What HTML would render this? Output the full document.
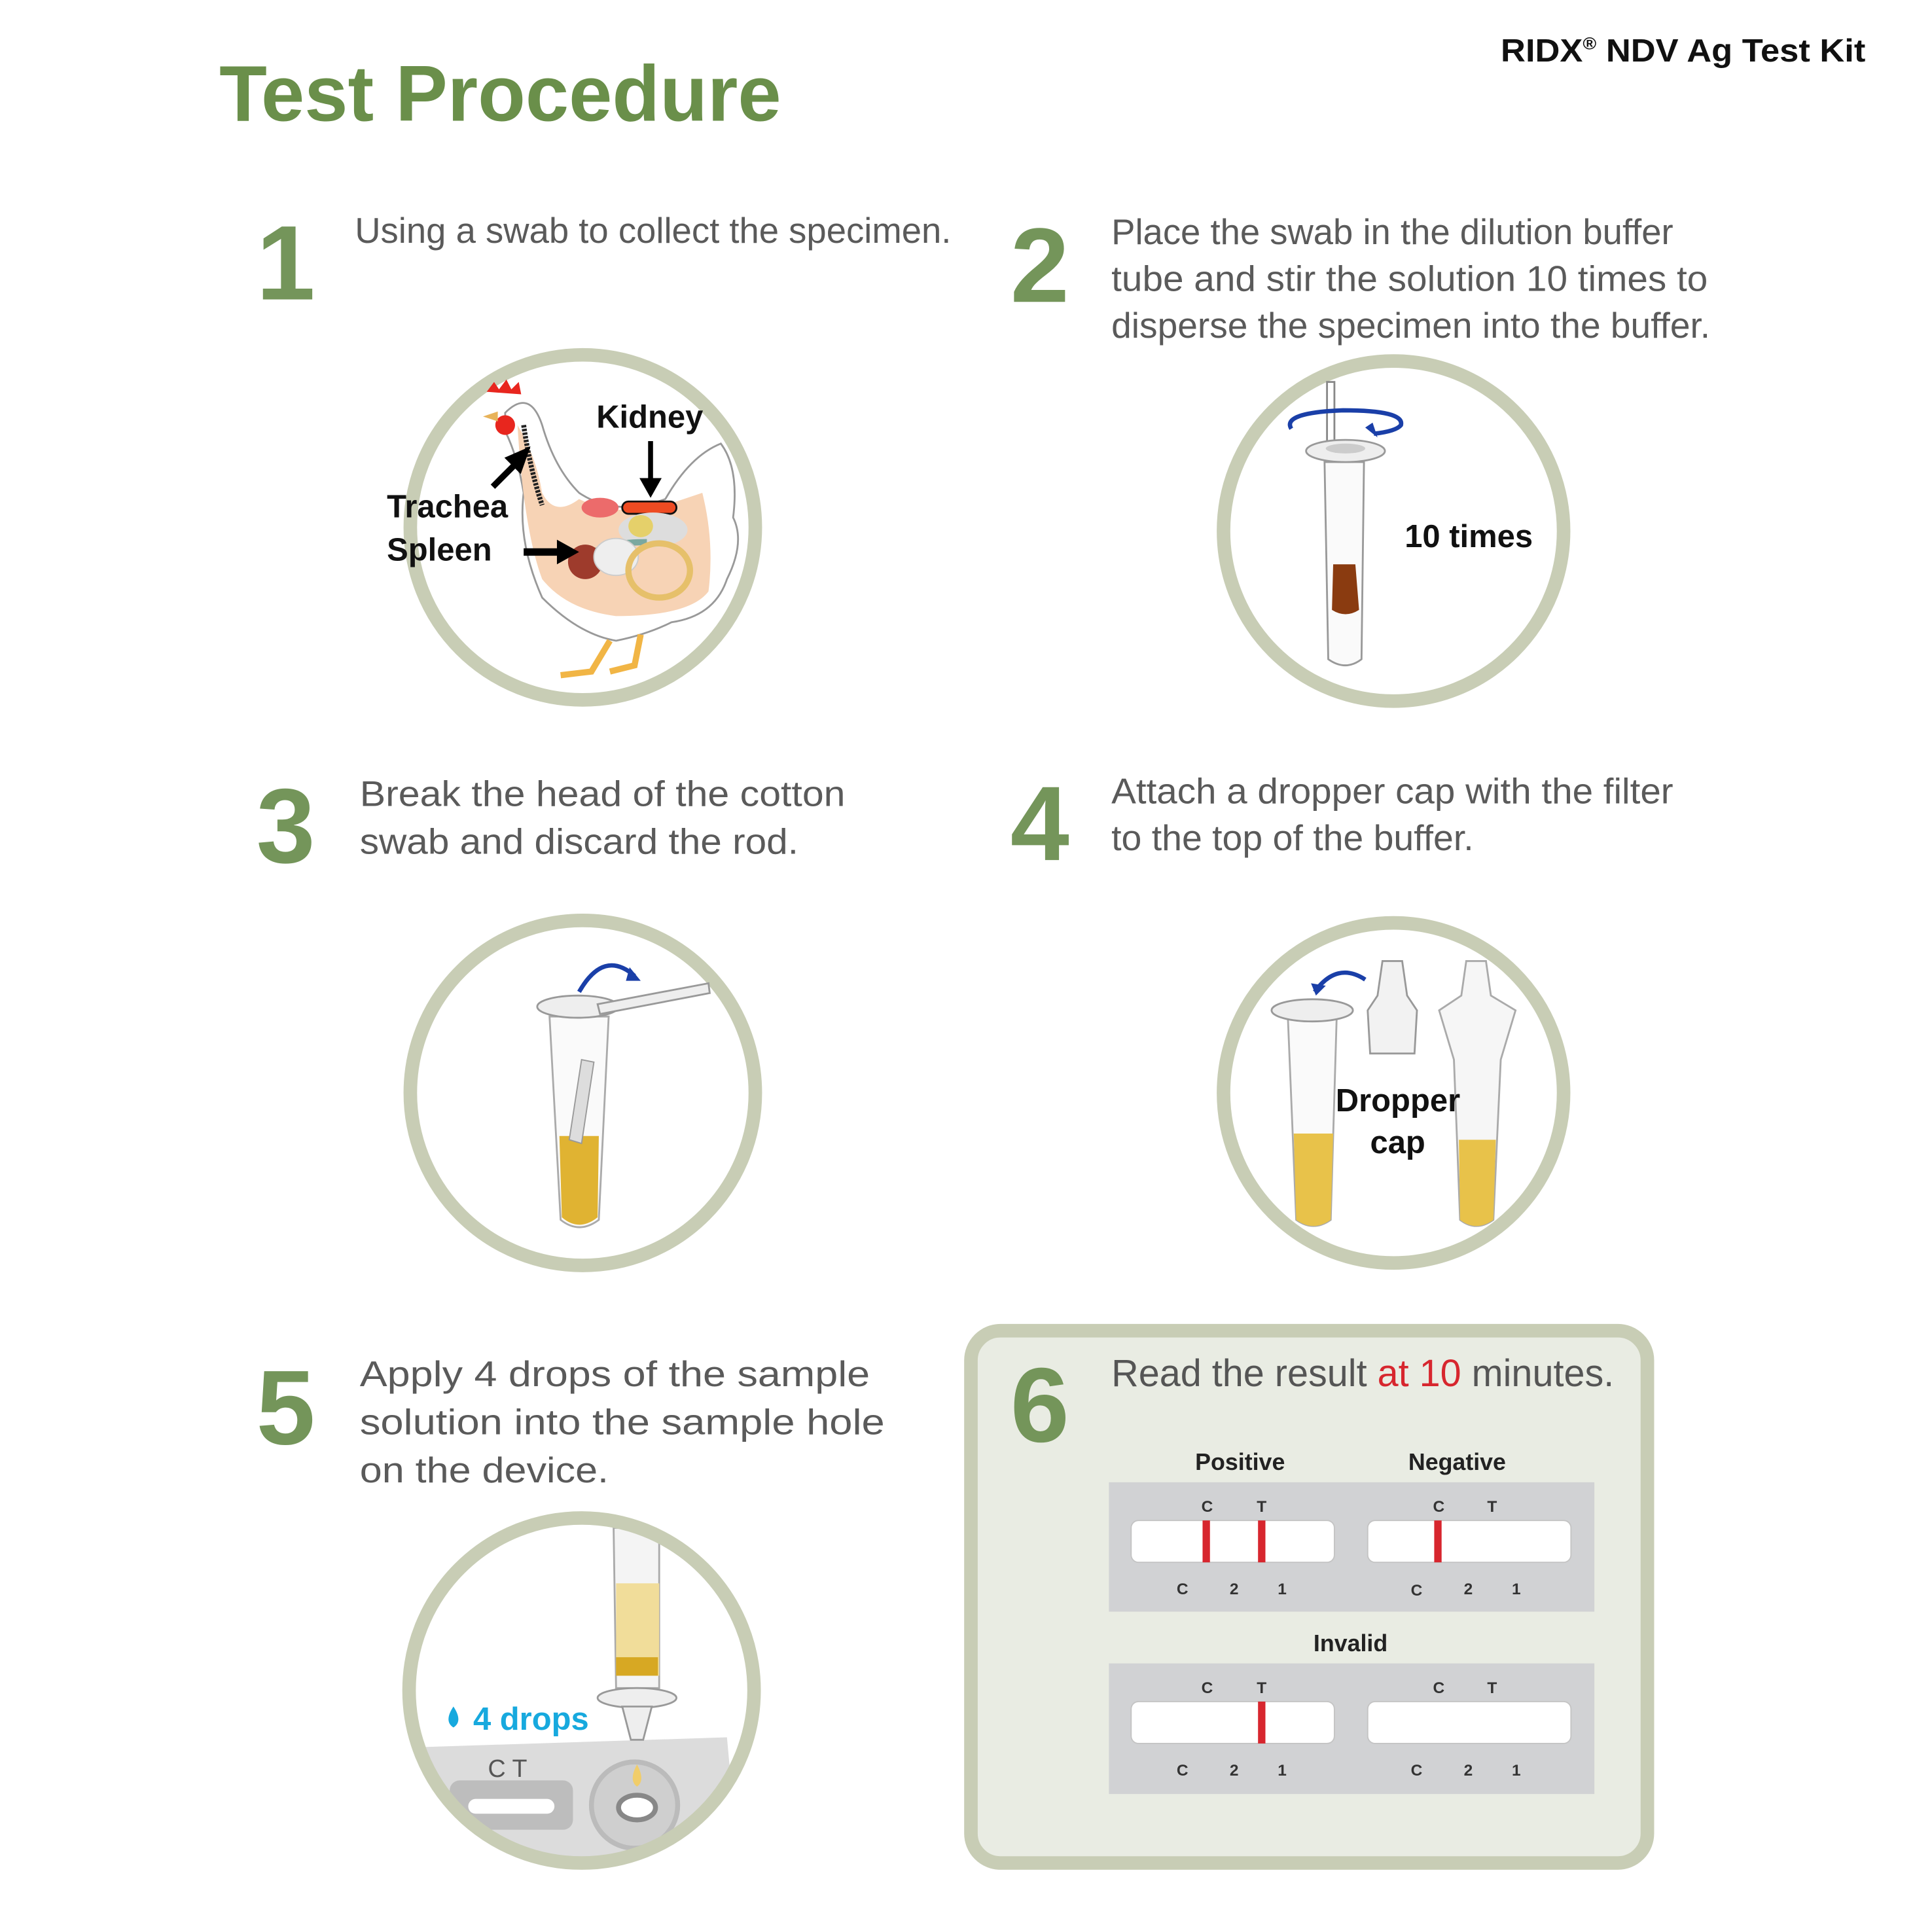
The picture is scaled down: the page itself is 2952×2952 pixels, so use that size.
<!DOCTYPE html>
<html><head><meta charset="utf-8"><style>
html,body{margin:0;padding:0;background:#fff;}
svg{display:block;}
text{font-family:"Liberation Sans Narrow","Liberation Sans",sans-serif;}
.num{fill:#74955a;font-weight:bold;font-size:86px;}
.st{fill:#5a5a5a;font-size:29px;}
.lbl{fill:#111;font-weight:bold;font-size:26px;}
</style></head><body>
<svg width="2952" height="2952" viewBox="0 0 1568 1568" xmlns="http://www.w3.org/2000/svg">
<rect width="1568" height="1568" fill="#fff"/>
<!-- step6 box (behind number) -->
<rect x="788" y="1080" width="549" height="432" rx="24" fill="#e9ece3" stroke="#c8cdb5" stroke-width="11"/>

<!-- header -->
<text x="178" y="98" font-size="64" font-weight="bold" fill="#6a8f4a" textLength="456" lengthAdjust="spacingAndGlyphs">Test Procedure</text>
<text x="1218" y="50" font-size="26" font-weight="bold" fill="#111" textLength="296" lengthAdjust="spacingAndGlyphs">RIDX<tspan font-size="14" dy="-10">®</tspan><tspan dy="10"> NDV Ag Test Kit</tspan></text>

<!-- step numbers -->
<text class="num" x="208" y="243">1</text>
<text class="num" x="820" y="245">2</text>
<text class="num" x="208" y="700">3</text>
<text class="num" x="820" y="698">4</text>
<text class="num" x="208" y="1172">5</text>
<text class="num" x="820" y="1170">6</text>

<!-- step texts -->
<text class="st" x="288" y="197" textLength="484" lengthAdjust="spacingAndGlyphs">Using a swab to collect the specimen.</text>
<text class="st" x="902" y="198" textLength="456" lengthAdjust="spacingAndGlyphs">Place the swab in the dilution buffer</text>
<text class="st" x="902" y="236" textLength="484" lengthAdjust="spacingAndGlyphs">tube  and stir the solution  10  times to</text>
<text class="st" x="902" y="274" textLength="486" lengthAdjust="spacingAndGlyphs">disperse the specimen into the buffer.</text>
<text class="st" x="292" y="654" textLength="394" lengthAdjust="spacingAndGlyphs">Break  the  head  of  the  cotton</text>
<text class="st" x="292" y="693" textLength="356" lengthAdjust="spacingAndGlyphs">swab  and  discard  the  rod.</text>
<text class="st" x="902" y="652" textLength="456" lengthAdjust="spacingAndGlyphs">Attach a dropper cap with the  filter</text>
<text class="st" x="902" y="690" textLength="294" lengthAdjust="spacingAndGlyphs">to the top of the buffer.</text>
<text class="st" x="292" y="1125" textLength="414" lengthAdjust="spacingAndGlyphs">Apply  4  drops  of  the  sample</text>
<text class="st" x="292" y="1164" textLength="426" lengthAdjust="spacingAndGlyphs">solution  into  the  sample  hole</text>
<text class="st" x="292" y="1203" textLength="202" lengthAdjust="spacingAndGlyphs">on  the  device.</text>

<!-- circles -->
<g fill="none" stroke="#c8cdb5" stroke-width="11">
<circle cx="473" cy="428" r="140"/>
<circle cx="1131" cy="431" r="138"/>
<circle cx="473" cy="887" r="140"/>
<circle cx="1131" cy="887" r="138"/>
</g>

<!-- step1 chicken -->
<g>
<path d="M410 335 Q430 315 440 345 Q450 380 470 400 Q500 420 540 405 Q560 370 585 360 Q600 380 595 420 Q605 440 590 470 Q580 500 545 505 Q525 515 500 520 Q470 515 440 485 Q420 440 425 400 Q420 370 410 350 Z" fill="#fff" stroke="#999" stroke-width="1.5"/>
<path d="M420 345 Q435 370 440 400 Q450 420 470 405 Q500 420 540 410 L570 400 Q580 440 575 480 Q560 500 500 500 Q460 495 440 470 Q425 430 420 345 Z" fill="#f7d3b5"/>
<path d="M395 318 l6 -8 l4 6 l6 -8 l4 8 l6 -6 l2 10 Z" fill="#e8261e"/>
<circle cx="410" cy="345" r="8" fill="#e8261e"/>
<path d="M392 338 L404 334 L404 342 Z" fill="#e8b35a"/>
<path d="M425 345 Q430 380 440 410" fill="none" stroke="#222" stroke-width="4" stroke-dasharray="2 1"/>
<rect x="505" y="407" width="44" height="10" rx="5" fill="#ee4b22" stroke="#111" stroke-width="1.5"/>
<ellipse cx="487" cy="412" rx="15" ry="8" fill="#ec6b6b"/>
<ellipse cx="530" cy="430" rx="28" ry="14" fill="#ddd"/>
<ellipse cx="520" cy="427" rx="10" ry="9" fill="#e5d06a"/>
<path d="M482 448 Q495 440 525 440" stroke="#7aa8a0" stroke-width="5" fill="none"/>
<ellipse cx="475" cy="456" rx="14" ry="14" fill="#9e3b2c"/>
<ellipse cx="500" cy="452" rx="18" ry="15" fill="#eee" stroke="#ccc"/>
<ellipse cx="535" cy="463" rx="25" ry="22" fill="none" stroke="#e6c06a" stroke-width="5"/>
<path d="M495 520 L480 545 L455 548 M520 515 L515 540 L495 545" stroke="#f1b545" stroke-width="5" fill="none"/>
<path d="M400 395 L422 373" stroke="#000" stroke-width="5"/><path d="M428 365 L412 372 L422 382 Z" fill="#000" stroke="#000" stroke-width="3"/>
<path d="M528 358 L528 390" stroke="#000" stroke-width="4"/><path d="M519 388 L537 388 L528 404 Z" fill="#000"/>
<path d="M425 448 L455 448" stroke="#000" stroke-width="6"/><path d="M452 438 L470 448 L452 458 Z" fill="#000"/>
<text class="lbl" x="484" y="347">Kidney</text>
<text class="lbl" x="314" y="420">Trachea</text>
<text class="lbl" x="314" y="455">Spleen</text>
</g>

<!-- step2 tube -->
<g>
<rect x="1077" y="310" width="6" height="150" fill="#fff" stroke="#888" stroke-width="1.5"/>
<path d="M1075 375 L1107 375 L1105 535 Q1092 545 1078 535 Z" fill="#fafafa" stroke="#999" stroke-width="1.5"/>
<ellipse cx="1092" cy="366" rx="32" ry="9" fill="#eee" stroke="#999" stroke-width="1.5"/>
<ellipse cx="1092" cy="364" rx="16" ry="4" fill="#ccc"/>
<path d="M1082 458 L1100 458 L1103 495 Q1092 502 1081 495 Z" fill="#8a3b10"/>
<path d="M1048 348 Q1040 335 1090 333 Q1140 333 1137 345 Q1133 350 1115 352" fill="none" stroke="#1a3fa8" stroke-width="3.5"/>
<path d="M1108 347 L1118 355 L1114 343 Z" fill="#1a3fa8"/>
<text class="lbl" x="1140" y="444">10 times</text>
</g>

<!-- step3 -->
<g>
<path d="M446 825 L494 825 L486 990 Q470 1002 455 990 Z" fill="#fafafa" stroke="#aaa" stroke-width="1.5"/>
<path d="M454 922 L486 922 L485 988 Q470 1000 456 988 Z" fill="#e0b332"/>
<ellipse cx="469" cy="817" rx="33" ry="9" fill="#eee" stroke="#999" stroke-width="1.5"/>
<path d="M462 925 L472 860 L482 862 L472 928 Z" fill="#ddd" stroke="#999"/>
<path d="M485 815 L575 798 L576 806 L487 823 Z" fill="#eee" stroke="#999" stroke-width="1.5"/>
<path d="M470 805 Q490 770 515 792" fill="none" stroke="#1a3fa8" stroke-width="3.5"/>
<path d="M511 785 L520 796 L508 796 Z" fill="#1a3fa8"/>
</g>

<!-- step4 -->
<g>
<path d="M1045 820 L1085 820 L1080 990 Q1066 1000 1052 990 Z" fill="#fafafa" stroke="#aaa" stroke-width="1.5"/>
<path d="M1050 920 L1082 920 L1080 990 Q1066 1000 1052 990 Z" fill="#e8c24a"/>
<ellipse cx="1065" cy="820" rx="33" ry="9" fill="#eee" stroke="#999" stroke-width="1.5"/>
<path d="M1122 780 L1138 780 L1142 808 L1150 820 L1148 855 L1112 855 L1110 820 L1118 808 Z" fill="#f2f2f2" stroke="#999" stroke-width="1.5"/>
<path d="M1190 780 L1206 780 L1210 808 L1230 820 L1218 860 L1212 990 Q1198 1000 1185 990 L1180 860 L1168 820 L1186 808 Z" fill="#f6f6f6" stroke="#aaa" stroke-width="1.5"/>
<path d="M1184 925 L1214 925 L1212 990 Q1198 1000 1185 990 Z" fill="#e8c24a"/>
<path d="M1067 805 Q1085 780 1108 795" fill="none" stroke="#1a3fa8" stroke-width="3.5"/>
<path d="M1064 798 L1068 808 L1076 800 Z" fill="#1a3fa8"/>
<text class="lbl" x="1084" y="902">Dropper</text>
<text class="lbl" x="1112" y="936">cap</text>
</g>

<!-- step5 -->
<defs><clipPath id="c5"><circle cx="472" cy="1372" r="140"/></clipPath></defs>
<g clip-path="url(#c5)">
<path d="M340 1418 L590 1410 L600 1520 L340 1520 Z" fill="#dcdcdc"/>
<rect x="365" y="1445" width="100" height="40" rx="8" fill="#bdbdbd"/>
<rect x="380" y="1460" width="70" height="12" rx="6" fill="#fff"/>
<circle cx="515" cy="1465" r="35" fill="#cfcfcf" stroke="#bbb" stroke-width="4"/>
<ellipse cx="517" cy="1467" rx="15" ry="10" fill="#fff" stroke="#888" stroke-width="4"/>
<text x="396" y="1442" font-size="20" fill="#555">C T</text>
<path d="M498 1240 L535 1240 L535 1370 L500 1370 Z" fill="#f4f4f4" stroke="#aaa" stroke-width="1.5"/>
<path d="M500 1285 L535 1285 L535 1360 L500 1360 Z" fill="#f1dd9a"/>
<rect x="500" y="1345" width="34" height="15" fill="#d7a823"/>
<ellipse cx="517" cy="1378" rx="32" ry="8" fill="#eee" stroke="#999" stroke-width="1.5"/>
<path d="M505 1385 L529 1385 L522 1412 L512 1412 Z" fill="#eee" stroke="#999" stroke-width="1.5"/>
<path d="M517 1432 Q510 1445 517 1450 Q524 1445 517 1432 Z" fill="#f1cd6a"/>
</g>
<circle cx="472" cy="1372" r="140" fill="none" stroke="#c8cdb5" stroke-width="11"/>
<path d="M368 1385 Q360 1397 368 1402 Q376 1397 368 1385 Z" fill="#17a9de"/>
<text x="384" y="1404" font-size="26" font-weight="bold" fill="#17a9de">4 drops</text>

<!-- step6 content -->
<text x="902" y="1125" font-size="31" fill="#555" textLength="408" lengthAdjust="spacingAndGlyphs">Read the result <tspan fill="#d7262e">at 10</tspan> minutes.</text>
<text x="970" y="1193" font-size="19" font-weight="bold" fill="#222">Positive</text>
<text x="1143" y="1193" font-size="19" font-weight="bold" fill="#222">Negative</text>
<text x="1066" y="1340" font-size="19" font-weight="bold" fill="#222">Invalid</text>
<rect x="900" y="1203" width="394" height="105" fill="#d1d2d4"/>
<rect x="900" y="1350" width="394" height="106" fill="#d1d2d4"/>
<g fill="#fff" stroke="#c4c4c4" stroke-width="1">
<rect x="918" y="1234" width="165" height="34" rx="6"/>
<rect x="1110" y="1234" width="165" height="34" rx="6"/>
<rect x="918" y="1381" width="165" height="34" rx="6"/>
<rect x="1110" y="1381" width="165" height="34" rx="6"/>
</g>
<g fill="#d7262e">
<rect x="976" y="1234" width="6" height="34"/>
<rect x="1021" y="1234" width="6" height="34"/>
<rect x="1164" y="1234" width="6" height="34"/>
<rect x="1021" y="1381" width="6" height="34"/>
</g>
<g font-size="13" fill="#333" font-weight="bold">
<text x="975" y="1227">C</text><text x="1020" y="1227">T</text>
<text x="1163" y="1227">C</text><text x="1207" y="1227">T</text>
<text x="955" y="1294">C</text><text x="998" y="1294">2</text><text x="1037" y="1294">1</text>
<text x="1145" y="1295">C</text><text x="1188" y="1294">2</text><text x="1227" y="1294">1</text>
<text x="975" y="1374">C</text><text x="1020" y="1374">T</text>
<text x="1163" y="1374">C</text><text x="1207" y="1374">T</text>
<text x="955" y="1441">C</text><text x="998" y="1441">2</text><text x="1037" y="1441">1</text>
<text x="1145" y="1441">C</text><text x="1188" y="1441">2</text><text x="1227" y="1441">1</text>
</g>
</svg>
</body></html>
